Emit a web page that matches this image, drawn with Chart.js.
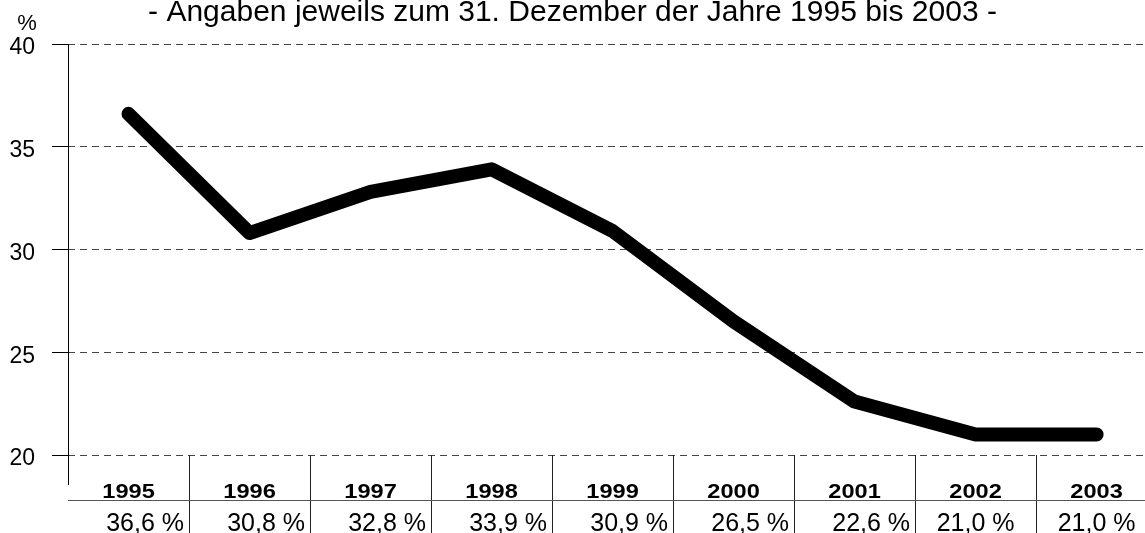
<!DOCTYPE html>
<html lang="de">
<head>
<meta charset="utf-8">
<title>Quote 1995 bis 2003</title>
<script src="https://cdn.jsdelivr.net/npm/chart.js@4.4.1/dist/chart.umd.min.js"></script>
<style>
  html, body { margin: 0; padding: 0; background: #fff; overflow: hidden; }
  #wrap { width: 1145px; height: 533px; }
</style>
</head>
<body>
<div id="wrap"><canvas id="quoteChart" width="1145" height="533"></canvas></div>
<script>
// --- data ---
const years = ['1995', '1996', '1997', '1998', '1999', '2000', '2001', '2002', '2003'];
const quote = [36.6, 30.8, 32.8, 33.9, 30.9, 26.5, 22.6, 21.0, 21.0];
const yTicks = [20, 25, 30, 35, 40];
const subtitle = '- Angaben jeweils zum 31. Dezember der Jahre 1995 bis 2003 -';
const unitLabel = '%';

const FONT = '"Liberation Sans", Arial, sans-serif';

const fmt = v => v.toFixed(1).replace('.', ',') + ' %';

// title, unit, y labels and the small year/value table under the plot
const tablePlugin = {
    id: 'tablePlugin',
    afterDraw(chart) {
        const { ctx, chartArea, scales } = chart;
        const x = scales.x;
        const y = scales.y;
        const bottom = chartArea.bottom;
        const H = chart.height;
        const px = v => Math.round(v) + 0.5;

        ctx.save();

        // y axis line, runs a bit past the plot into the table
        ctx.strokeStyle = '#000';
        ctx.lineWidth = 1;
        ctx.beginPath();
        ctx.moveTo(px(chartArea.left), chartArea.top);
        ctx.lineTo(px(chartArea.left), bottom + 30);
        ctx.stroke();

        // column separators
        ctx.strokeStyle = '#222';
        for (let i = 0; i < years.length - 1; i++) {
            const cx = px(x.getPixelForValue(i + 0.5));
            ctx.beginPath();
            ctx.moveTo(cx, bottom);
            ctx.lineTo(cx, H);
            ctx.stroke();
        }

        // row separator
        ctx.strokeStyle = '#555';
        ctx.beginPath();
        ctx.moveTo(chartArea.left, px(bottom + 45));
        ctx.lineTo(chartArea.right, px(bottom + 45));
        ctx.stroke();

        ctx.fillStyle = '#000';

        // y tick labels, sitting slightly below their grid line
        ctx.font = '23px ' + FONT;
        ctx.textAlign = 'right';
        ctx.textBaseline = 'middle';
        yTicks.forEach(v => {
            ctx.fillText(String(v), 35, y.getPixelForValue(v) + 4);
        });
        ctx.textBaseline = 'alphabetic';

        // years (bold, a little wide like the original)
        ctx.font = 'bold 20px ' + FONT;
        ctx.textAlign = 'center';
        years.forEach((yr, i) => {
            ctx.save();
            ctx.translate(x.getPixelForValue(i), bottom + 43);
            ctx.scale(1.18, 1);
            ctx.fillText(yr, 0, 0);
            ctx.restore();
        });

        // values
        ctx.font = '25px ' + FONT;
        quote.forEach((v, i) => {
            if (i < 7) {
                ctx.textAlign = 'right';
                ctx.fillText(fmt(v), x.getPixelForValue(i + 0.5) - 5, bottom + 76);
            } else {
                ctx.textAlign = 'center';
                ctx.fillText(fmt(v), x.getPixelForValue(i), bottom + 76);
            }
        });

        // subtitle (top is cut off in the original)
        ctx.font = '30px ' + FONT;
        ctx.textAlign = 'center';
        ctx.fillText(subtitle, chart.width / 2, 21);

        // unit
        ctx.font = '22px ' + FONT;
        ctx.fillText(unitLabel, 27, 30);

        ctx.restore();
    }
};

const ctx = document.getElementById('quoteChart').getContext('2d');
new Chart(ctx, {
    type: 'line',
    data: {
        datasets: [{
            label: 'Quote',
            data: quote.map((v, i) => ({ x: i, y: v })),
            borderColor: '#000',
            borderWidth: 14,
            borderCapStyle: 'round',
            borderJoinStyle: 'round',
            pointRadius: 0,
            tension: 0,
            fill: false,
            clip: false,
        }]
    },
    options: {
        responsive: false,
        animation: false,
        layout: {
            padding: { top: 44, right: 0, bottom: 78, left: 0 }
        },
        scales: {
            x: {
                type: 'linear',
                min: -0.5,
                max: 8.4,
                display: false,
            },
            y: {
                min: 20,
                max: 40,
                afterBuildTicks: scale => {
                    scale.ticks = yTicks.map(v => ({ value: v }));
                },
                afterFit: scale => { scale.width = 68; },
                ticks: { display: false },
                grid: {
                    color: '#444',
                    tickColor: '#000',
                    tickLength: 16,
                },
                border: {
                    display: false,
                    dash: [7, 5],
                },
            }
        },
        plugins: {
            legend: { display: false },
            tooltip: { enabled: false },
        }
    },
    plugins: [tablePlugin]
});
</script>
</body>
</html>
